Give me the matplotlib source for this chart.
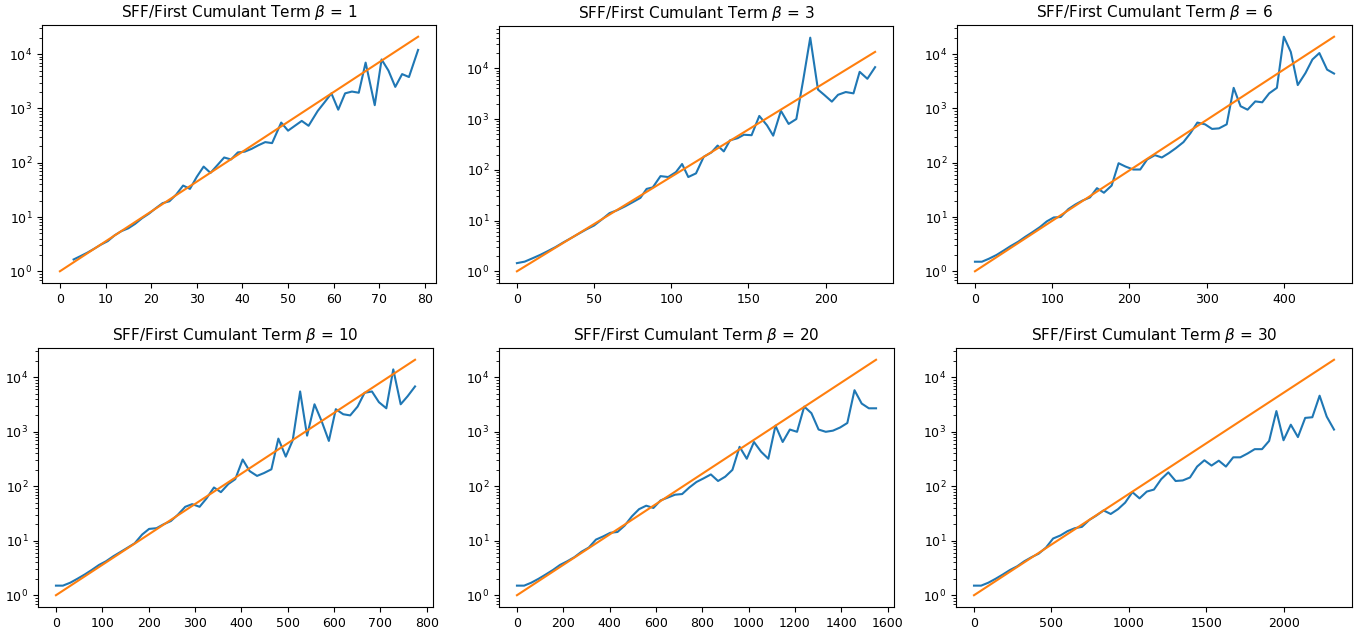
import numpy as np
import matplotlib
matplotlib.use('Agg')
import matplotlib.pyplot as plt

# --- data ---
betas = [1, 3, 6, 10, 20, 30]

# orange reference line: straight on log axis from (0, 1) to (x_end, y_end)
ref_x_end = [78.5, 232, 465, 775, 1550, 2325]
ref_y_start = 1.0
ref_y_end = 2.1e4

x_b1 = [3, 4.5, 6, 7.5, 9, 10.5, 12, 13.5, 15, 16.5, 18, 19.5, 21, 22.5, 24, 25.5,
        27, 28.5, 30, 31.5, 33, 34.5, 36, 37.5, 39, 40.5, 42, 43.5, 45, 46.5, 48.5,
        50, 51.5, 53, 54.5, 56.5, 58, 59.5, 61, 62.5, 64, 65.5, 67, 69, 70.5, 72,
        73.5, 75, 76.5, 78.5]
y_b1 = [1.65, 1.9, 2.2, 2.6, 3.1, 3.6, 4.6, 5.5, 6.2, 7.5, 9.5, 11.5, 14.5, 18, 19.5, 26,
        38, 33, 55, 85, 65, 90, 125, 115, 155, 160, 180, 210, 240, 230, 550,
        390, 480, 590, 480, 900, 1300, 1900, 950, 1900, 2050, 1950, 7000, 1150, 8000, 5000,
        2500, 4300, 3800, 12000]

x_b3 = [0, 5, 10, 15, 20, 25, 30, 35, 40, 45, 50, 55, 60, 65, 70, 75, 80, 84, 88, 93,
        98, 103, 107, 111, 116, 121, 126, 130, 134, 138, 143, 147, 152, 157, 162, 166,
        171, 176, 181, 185.5, 190, 195, 199, 204, 208, 213, 218, 222, 227, 232]
y_b3 = [1.45, 1.55, 1.8, 2.1, 2.5, 3.0, 3.7, 4.5, 5.5, 6.7, 8.0, 10.5, 14, 16, 19, 23, 28,
        42, 45, 75, 72, 90, 130, 72, 85, 180, 220, 300, 230, 380, 420, 490, 480, 1150,
        750, 470, 1450, 800, 1000, 6000, 40000, 3800, 3000, 2200, 3000, 3400, 3200,
        8500, 6200, 10500]

x_b6 = [0, 9, 18, 28, 37, 46, 56, 65, 74, 84, 93, 102, 111, 121, 130, 139, 149, 158, 167,
        177, 186, 195, 205, 214, 223, 233, 242, 251, 260, 270, 279, 288, 298, 307, 316,
        326, 335, 344, 353, 363, 372, 381, 391, 400, 409, 418, 428, 437, 446, 456, 465]
y_b6 = [1.5, 1.5, 1.7, 2.0, 2.4, 2.9, 3.5, 4.3, 5.2, 6.5, 8.3, 9.8, 10.0, 14, 17, 20, 23,
        34, 28, 38, 98, 85, 75, 75, 115, 138, 125, 150, 185, 240, 350, 550, 510, 420,
        430, 510, 2400, 1100, 950, 1350, 1300, 1900, 2400, 21000, 11000, 2700, 4500,
        8000, 10500, 5200, 4400]

x_b10 = [0, 15, 31, 46, 62, 77, 93, 108, 124, 139, 155, 170, 186, 201, 217, 232, 248,
         263, 279, 294, 310, 325, 341, 356, 372, 387, 403, 418, 434, 449, 465, 480, 496,
         511, 527, 542, 558, 573, 589, 604, 620, 635, 651, 666, 682, 697, 713, 728, 744,
         759, 775]
y_b10 = [1.5, 1.5, 1.7, 2.0, 2.4, 2.9, 3.6, 4.2, 5.2, 6.2, 7.5, 9.0, 13, 16.5, 17, 20, 23,
         30, 42, 47, 42, 60, 95, 78, 110, 135, 310, 190, 155, 175, 205, 750, 350, 700,
         5500, 850, 3200, 1600, 680, 2600, 2100, 2000, 2900, 5200, 5500, 3500, 2700,
         14000, 3200, 4500, 6800]

x_b20 = [0, 31, 62, 93, 124, 155, 186, 217, 248, 279, 310, 341, 372, 403, 434, 465, 496,
         527, 558, 589, 620, 651, 682, 713, 744, 775, 806, 837, 868, 899, 930, 961, 992,
         1023, 1054, 1085, 1116, 1147, 1178, 1209, 1240, 1271, 1302, 1333, 1364, 1395,
         1426, 1457, 1488, 1519, 1550]
y_b20 = [1.5, 1.5, 1.7, 2.0, 2.4, 2.9, 3.6, 4.2, 5.0, 6.3, 7.5, 10.5, 12, 14, 14.5, 19,
         28, 38, 44, 40, 55, 62, 70, 72, 95, 120, 140, 165, 125, 150, 200, 530, 320, 650,
         430, 320, 1300, 650, 1100, 1000, 2900, 2200, 1100, 1000, 1050, 1200, 1450, 5800,
         3300, 2700, 2700]

x_b30 = [0, 46, 93, 139, 186, 232, 279, 325, 372, 418, 465, 511, 558, 604, 651, 697, 744,
         790, 837, 883, 930, 976, 1023, 1069, 1116, 1162, 1209, 1255, 1302, 1348, 1395,
         1441, 1488, 1534, 1581, 1627, 1674, 1720, 1767, 1813, 1860, 1906, 1953, 1999,
         2046, 2092, 2139, 2185, 2232, 2278, 2325]
y_b30 = [1.5, 1.5, 1.7, 2.0, 2.4, 2.9, 3.4, 4.2, 5.0, 5.8, 7.5, 11, 12.5, 15, 17, 18, 24,
         29, 36, 31, 38, 50, 78, 60, 80, 87, 135, 180, 125, 128, 145, 230, 300, 240, 295,
         230, 340, 340, 400, 480, 480, 680, 2400, 700, 1350, 800, 1800, 1850, 4600, 1900,
         1100]

xs = [x_b1, x_b3, x_b6, x_b10, x_b20, x_b30]
ys = [y_b1, y_b3, y_b6, y_b10, y_b20, y_b30]

# axes rectangles in pixels (left, top, right, bottom)
W, H = 1364, 633
rects_px = [(42, 25, 436, 283), (499, 26, 893, 283), (957, 25, 1352, 283),
            (38, 348, 433, 607), (499, 348, 894, 607), (956, 348, 1352, 607)]

fig = plt.figure(figsize=(13.64, 6.33), dpi=100)

for i in range(6):
    l, t, r, b = rects_px[i]
    ax = fig.add_axes([l / W, 1 - b / H, (r - l) / W, (b - t) / H])
    ax.plot(xs[i], ys[i], color='C0', lw=1.5)
    ax.plot([0, ref_x_end[i]], [ref_y_start, ref_y_end], color='C1', lw=1.5)
    ax.set_yscale('log')
    ax.set_title(r'SFF/First Cumulant Term $\beta$ = ' + str(betas[i]), fontsize=11)
    ax.tick_params(labelsize=9)

plt.savefig('out.png', dpi=100)
